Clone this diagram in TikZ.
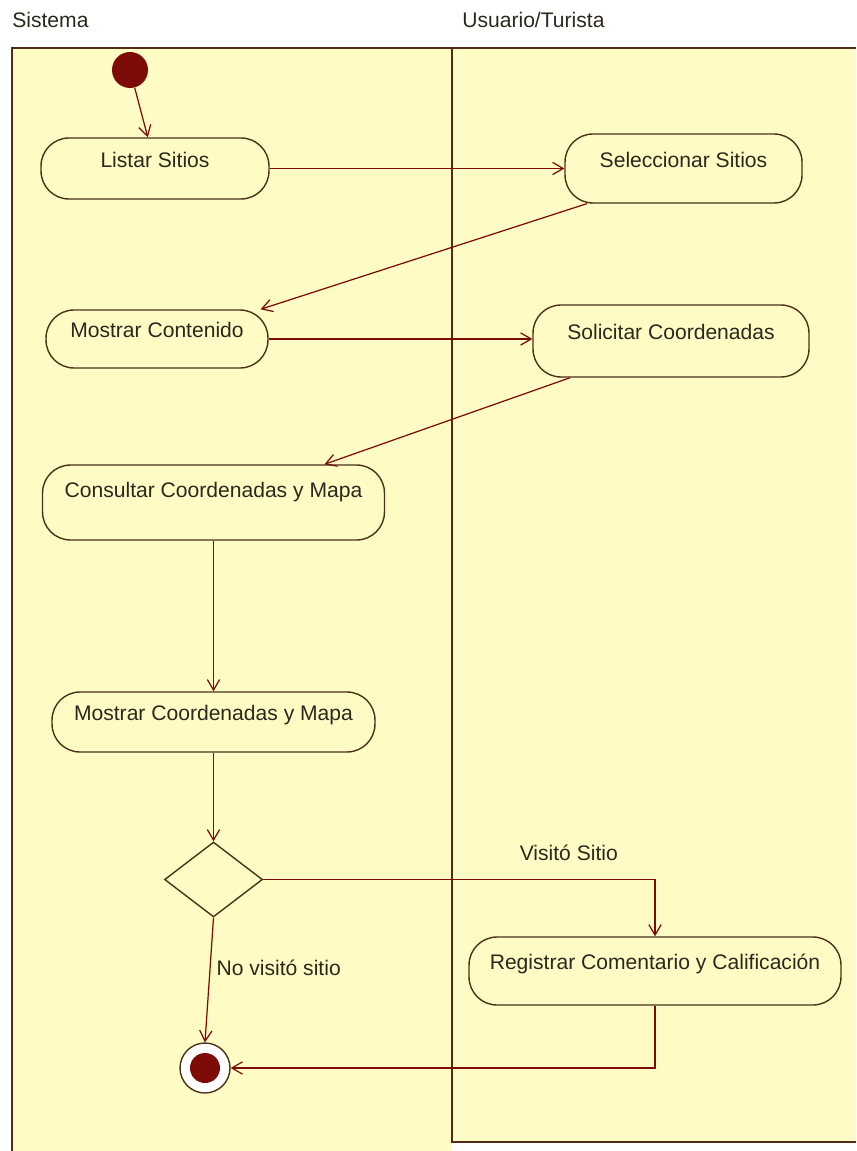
\documentclass[tikz,border=0pt]{standalone}
\usepackage{fontspec}
\setmainfont{Liberation Sans}
\usetikzlibrary{arrows.meta,shapes.geometric}
\definecolor{carril}{RGB}{255,251,196}
\definecolor{granate}{RGB}{125,12,8}
\definecolor{borde}{RGB}{75,50,25}
\definecolor{texto}{RGB}{45,40,30}
\begin{document}
\begin{tikzpicture}[x=0.02cm,y=-0.02cm,font=\fontsize{12}{14}\selectfont,text=texto,
    act/.style={draw=borde,line width=0.8pt,rounded corners=0.56cm,inner sep=0pt,text depth=10pt},
    flecha/.style={draw=granate,line width=0.7pt,-{Straight Barb[length=6pt,width=7pt]}}]
      \useasboundingbox (0,0) rectangle (856,1151);
      % carriles
      \fill[carril] (12,48) rectangle (452,1151);
      \fill[carril] (452,48) rectangle (856,1142);
      \draw[draw=borde!80!granate,line width=1.2pt] (12,1151) -- (12,48) -- (856,48);
      \draw[draw=borde!80!granate,line width=1.2pt] (452,48) -- (452,1142) -- (856,1142);
      \node[anchor=west,inner sep=0pt] (sis) at (12,20) {Sistema};
      \node[anchor=west,inner sep=0pt] (usu) at (462,20) {Usuario/Turista};
      % actividades
      \node[circle,fill=granate,minimum size=0.72cm,inner sep=0pt] (ini) at (130,70) {};
      \node[act,minimum width=4.56cm,minimum height=1.22cm] (listar) at (155,168.5) {Listar Sitios};
      \node[act,minimum width=4.74cm,minimum height=1.38cm] (selec) at (683.5,168.5) {Seleccionar Sitios};
      \node[act,minimum width=4.44cm,minimum height=1.16cm] (mcont) at (157,339) {Mostrar Contenido};
      \node[act,minimum width=5.52cm,minimum height=1.44cm] (solic) at (671,341) {Solicitar Coordenadas};
      \node[act,minimum width=6.84cm,minimum height=1.5cm,text depth=14pt] (consul) at (213.5,502.5) {Consultar Coordenadas y Mapa};
      \node[act,minimum width=6.46cm,minimum height=1.2cm] (mcoord) at (213.5,722) {Mostrar Coordenadas y Mapa};
      \node[diamond,draw=borde,line width=0.8pt,minimum width=1.96cm,minimum height=1.5cm,inner sep=0pt] (dec) at (213.5,879.5) {};
      \node[act,minimum width=7.44cm,minimum height=1.36cm] (reg) at (655,971) {Registrar Comentario y Calificación};
      \node[circle,draw=borde,fill=white,line width=0.8pt,minimum size=1cm,inner sep=0pt] (fin) at (205,1068) {};
      \fill[granate] (fin) circle (0.3cm);
      % transiciones
      \draw[flecha] (ini) -- (listar.103);
      \draw[flecha] (listar.east) -- (selec.west);
      \draw[flecha] (selec.200) -- (mcont.16);
      \draw[flecha] (mcont.east) -- (mcont.east -| solic.west);
      \draw[flecha] (solic.200) -- (consul.19);
      \draw[flecha] (consul.south) -- (mcoord.north);
      \draw[flecha] (mcoord.south) -- (dec.north);
      \draw[flecha] (dec.east) -| node[pos=0.39,above=0.25cm,text=texto] {Visitó Sitio} (reg.north);
      \draw[flecha] (dec.south) -- node[pos=0.4,right,text=texto] {No visitó sitio} (fin.north);
      \draw[flecha] (reg.south) |- (fin.east);
    \end{tikzpicture}
\end{document}
